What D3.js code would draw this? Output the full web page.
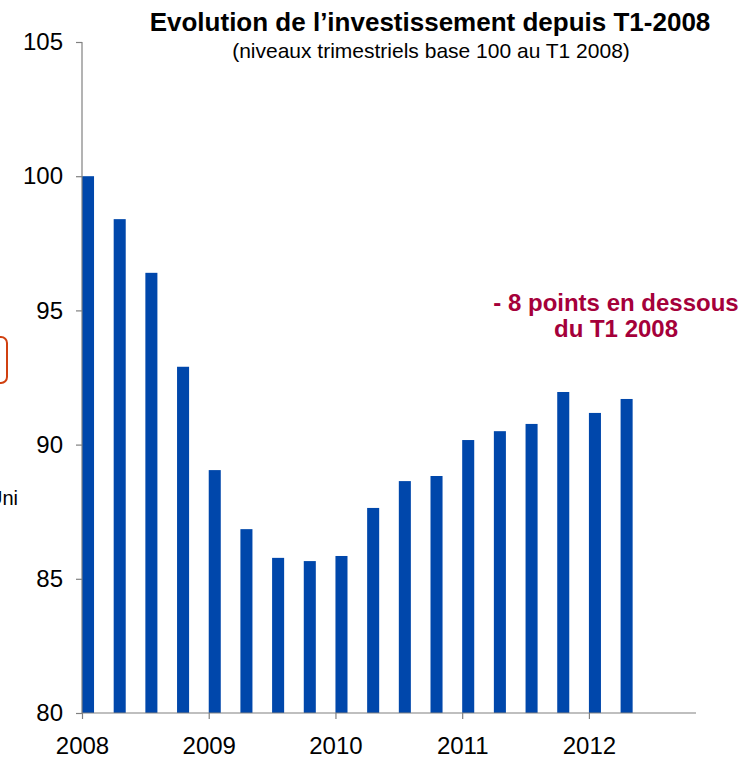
<!DOCTYPE html>
<html>
<head>
<meta charset="utf-8">
<script src="https://cdn.jsdelivr.net/npm/d3@7"></script>
<style>
  body { margin: 0; background: #fff; }
  text { font-family: "Liberation Sans", Arial, sans-serif; }
</style>
</head>
<body>
<div id="chart"></div>
<script>
// quarters T1-2008 .. T2-2012, base 100
var quarters = [
  '2008T1', '2008T2', '2008T3', '2008T4',
  '2009T1', '2009T2', '2009T3', '2009T4',
  '2010T1', '2010T2', '2010T3', '2010T4',
  '2011T1', '2011T2', '2011T3', '2011T4',
  '2012T1', '2012T2'
];
var values = [
  100.0, 98.4, 96.4, 92.9,
  89.05, 86.85, 85.78, 85.66,
  85.85, 87.64, 88.64, 88.83,
  90.17, 90.5, 90.77, 91.96,
  91.18, 91.7
];
var yTicks = [80, 85, 90, 95, 100, 105];
var xTicks = [2008, 2009, 2010, 2011, 2012];

var W = 749, H = 760;
// plot area
var pL = 82, pR = 696, pT = 42, pB = 713;

var svg = d3
  .select('#chart')
  .append('svg')
  .attr('width', W)
  .attr('height', H);

// scales
var x = d3.scaleLinear().domain([2008, 2012.845]).range([pL, pR]);
var y = d3.scaleLinear().domain([80, 105]).range([pB, pT]);

function qTime(q) {
  return +q.slice(0, 4) + (+q.slice(5) - 1) / 4;
}
var bw = (x(2008.25) - x(2008)) * 0.38;

// bars
svg
  .append('g')
  .selectAll('rect')
  .data(quarters)
  .enter()
  .append('rect')
  .attr('x', function (d) { return x(qTime(d)); })
  .attr('y', function (d, i) { return y(values[i]); })
  .attr('width', bw)
  .attr('height', function (d, i) { return y(80) - y(values[i]); })
  .attr('fill', '#0047ab');

// y axis
var gy = svg
  .append('g')
  .attr('transform', 'translate(' + pL + ',0)')
  .call(d3.axisLeft(y).tickValues(yTicks).tickSize(6).tickPadding(13));
// x axis
var gx = svg
  .append('g')
  .attr('transform', 'translate(0,' + pB + ')')
  .call(d3.axisBottom(x).tickValues(xTicks).tickFormat(d3.format('d')).tickSize(6).tickPadding(18));

[gy, gx].forEach(function (g) {
  g.select('.domain').attr('stroke', '#808080').attr('stroke-width', 1.2);
  g.selectAll('.tick line').attr('stroke', '#808080').attr('stroke-width', 1.2);
  g.selectAll('.tick text')
    .attr('fill', '#000')
    .style('font-size', '24px')
    .style('font-family', '"Liberation Sans", Arial, sans-serif');
});
gx.select('.domain').attr('d', 'M' + pL + ',0H' + pR);
gy.select('.domain').attr('d', 'M0,' + pT + 'V' + pB);

// title
svg
  .append('text')
  .attr('x', 430)
  .attr('y', 31)
  .attr('text-anchor', 'middle')
  .style('font-size', '26px')
  .style('font-weight', 'bold')
  .text('Evolution de l\u2019investissement depuis T1-2008');
svg
  .append('text')
  .attr('x', 431)
  .attr('y', 58)
  .attr('text-anchor', 'middle')
  .style('font-size', '21px')
  .text('(niveaux trimestriels base 100 au T1 2008)');

// annotation
var note = svg
  .append('text')
  .attr('text-anchor', 'middle')
  .attr('fill', '#a5003a')
  .style('font-size', '24px')
  .style('font-weight', 'bold');
note.append('tspan').attr('x', 616).attr('y', 311).text('- 8 points en dessous');
note.append('tspan').attr('x', 616).attr('y', 337).text('du T1 2008');

// cropped leftovers at the left edge
svg
  .append('rect')
  .attr('x', -20)
  .attr('y', 337)
  .attr('width', 27)
  .attr('height', 46)
  .attr('rx', 6)
  .attr('fill', 'none')
  .attr('stroke', '#d04010')
  .attr('stroke-width', 2);
svg
  .append('text')
  .attr('x', 18)
  .attr('y', 505)
  .attr('text-anchor', 'end')
  .style('font-size', '20px')
  .text('Uni');
</script>
</body>
</html>
